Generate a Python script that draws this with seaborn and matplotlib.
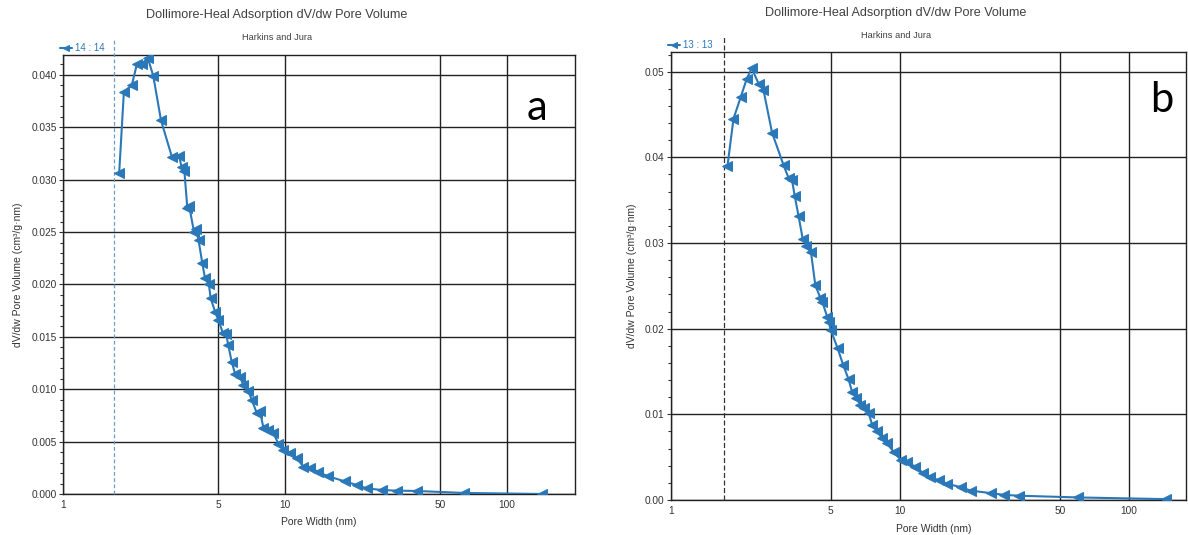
import matplotlib
matplotlib.use("Agg")
import matplotlib.pyplot as plt
import matplotlib.ticker as mticker
import seaborn as sns
import pandas as pd

# ---------------- data ----------------
a_width = [1.79, 1.88, 2.04, 2.15, 2.26, 2.41, 2.55, 2.76, 3.09, 3.33,
           3.42, 3.52, 3.63, 3.70, 3.89, 3.97, 4.08, 4.24, 4.36, 4.54,
           4.62, 4.84, 5.01, 5.24, 5.42, 5.55, 5.75, 5.95, 6.27, 6.49,
           6.83, 7.08, 7.46, 7.71, 7.99, 8.41, 8.86, 9.33, 9.83, 10.5,
           11.3, 12.1, 13.0, 14.1, 15.6, 18.6, 21.0, 23.3, 27.3, 31.9,
           39.2, 63.6, 143.0]
a_dvdw = [0.0306, 0.0384, 0.0390, 0.0410, 0.0410, 0.0416, 0.0399, 0.0357, 0.0322, 0.0323,
          0.0312, 0.0308, 0.0273, 0.0275, 0.0250, 0.0253, 0.0242, 0.0220, 0.0206, 0.0200,
          0.0187, 0.0174, 0.0166, 0.0154, 0.0153, 0.0142, 0.0126, 0.0115, 0.0112, 0.0104,
          0.0098, 0.0090, 0.0077, 0.0079, 0.0063, 0.0061, 0.0058, 0.0048, 0.0042, 0.0039,
          0.0034, 0.0026, 0.0025, 0.0021, 0.0017, 0.0012, 0.00086, 0.00054, 0.00038, 0.00032,
          0.00029, 0.0001, 0.0]

b_width = [1.77, 1.88, 2.02, 2.15, 2.26, 2.42, 2.54, 2.77, 3.11, 3.27,
           3.39, 3.48, 3.62, 3.77, 3.91, 4.10, 4.28, 4.50, 4.60, 4.82,
           4.89, 5.01, 5.36, 5.66, 5.98, 6.20, 6.47, 6.74, 7.01, 7.33,
           7.58, 7.97, 8.38, 8.82, 9.42, 10.1, 10.8, 11.7, 12.6, 13.6,
           14.8, 16.1, 18.5, 20.4, 25.0, 28.5, 33.2, 59.8, 146.0]
b_dvdw = [0.0390, 0.0445, 0.0470, 0.0492, 0.0504, 0.0486, 0.0479, 0.0429, 0.0391, 0.0376,
          0.0373, 0.0355, 0.0331, 0.0305, 0.0297, 0.0289, 0.0251, 0.0236, 0.0231, 0.0214,
          0.0208, 0.0198, 0.0177, 0.0158, 0.0141, 0.0126, 0.0119, 0.0111, 0.0107, 0.0101,
          0.0088, 0.0080, 0.0072, 0.0066, 0.0056, 0.0047, 0.0044, 0.0039, 0.0032, 0.0027,
          0.0023, 0.0019, 0.0015, 0.0011, 0.0008, 0.0006, 0.0005, 0.0003, 0.0001]

x_ticks = [1, 5, 10, 50, 100]
x_tick_labels = ["1", "5", "10", "50", "100"]
a_yticks = [0.000, 0.005, 0.010, 0.015, 0.020, 0.025, 0.030, 0.035, 0.040]
b_yticks = [0.00, 0.01, 0.02, 0.03, 0.04, 0.05]
legend_a = "14 : 14"
legend_b = "13 : 13"
panel_a = "a"
panel_b = "b"
title = "Dollimore-Heal Adsorption dV/dw Pore Volume"
subtitle = "Harkins and Jura"
xlabel = "Pore Width (nm)"
ylabel = "dV/dw Pore Volume (cm³/g·nm)"

# ---------------- style ----------------
sns.set_style("white")
plt.rcParams['font.family'] = ['Liberation Sans', 'DejaVu Sans']

LINE = "#2a78b8"
TXT = "#333333"

fig = plt.figure(figsize=(11.88, 5.35), dpi=100)
W, H = 1188, 535
ax_a = fig.add_axes([63 / W, 1 - 494 / H, 512 / W, 439 / H])
ax_b = fig.add_axes([670.7 / W, 1 - 500 / H, (1186 - 670.7) / W, 448 / H])


def draw(ax, xs, ys, yticks, ylim, xlim, fmt, minor_step, leg, vcol, vstyle):
    df = pd.DataFrame({"w": xs, "v": ys})
    ax.set_xscale("log")
    sns.lineplot(data=df, x="w", y="v", ax=ax, sort=False, color=LINE,
                 linewidth=1.5, marker="<", markersize=6.5,
                 markeredgecolor=LINE, markerfacecolor=LINE, label=leg, zorder=5)
    ax.set_xlim(*xlim)
    ax.set_ylim(*ylim)
    ax.set_xticks(x_ticks)
    ax.set_xticklabels(x_tick_labels)
    ax.xaxis.set_minor_locator(mticker.NullLocator())
    ax.set_yticks(yticks)
    ax.yaxis.set_major_formatter(mticker.FormatStrFormatter(fmt))
    ax.yaxis.set_minor_locator(mticker.MultipleLocator(minor_step))
    ax.grid(True, which="major", color="#222222", linewidth=1.0)
    ax.tick_params(axis="both", which="major", labelsize=7.3, colors=TXT,
                   length=3, width=0.8, direction="out", pad=1.5)
    ax.tick_params(axis="y", which="minor", length=2, width=0.8, color=TXT)
    ax.tick_params(axis="x", which="major", length=0, pad=4)
    ax.tick_params(axis="y", which="both", left=True)
    for s in ax.spines.values():
        s.set_color("#222222")
        s.set_linewidth(1.0)
    ax.set_xlabel(xlabel, fontsize=7.5, color=TXT, labelpad=0)
    ax.set_ylabel(ylabel, fontsize=7.5, color=TXT, labelpad=6)
    ax.axvline(1.705, ymin=0, ymax=1.035, color=vcol, linestyle=vstyle,
               linewidth=0.9, clip_on=False, zorder=3)
    lg = ax.legend(loc="lower left", bbox_to_anchor=(-0.005, 1.004), frameon=False,
                   borderaxespad=0, borderpad=0, handlelength=1.2, handletextpad=0.3,
                   fontsize=7, markerscale=0.75)
    for t in lg.get_texts():
        t.set_color(LINE)


draw(ax_a, a_width, a_dvdw, a_yticks, (0, 0.0419), (1, 202), "%.3f", 0.001,
     legend_a, "#6a9cc8", (0, (3, 2)))
draw(ax_b, b_width, b_dvdw, b_yticks, (0, 0.0523), (1, 178), "%.2f", 0.002,
     legend_b, "#333333", (0, (4, 2)))

ax_a.yaxis.set_label_coords(-0.078, 0.5)
ax_b.yaxis.set_label_coords(-0.066, 0.5)
ax_a.xaxis.set_label_coords(0.5, -0.053)
ax_b.xaxis.set_label_coords(0.51, -0.053)

ax_a.text(0.926, 0.879, panel_a, transform=ax_a.transAxes, fontsize=30,
          family="Lato", ha="center", va="center", color="black")
ax_b.text(0.952, 0.893, panel_b, transform=ax_b.transAxes, fontsize=30,
          family="Lato", ha="center", va="center", color="black")

fig.text(277 / W, 1 - 15 / H, title, ha="center", va="center", fontsize=9.1, color="#404040")
fig.text(277 / W, 1 - 38 / H, subtitle, ha="center", va="center", fontsize=6.7, color="#404040")
fig.text(896 / W, 1 - 13 / H, title, ha="center", va="center", fontsize=9.1, color="#404040")
fig.text(896 / W, 1 - 35 / H, subtitle, ha="center", va="center", fontsize=6.7, color="#404040")

fig.savefig("out.png", dpi=100)
